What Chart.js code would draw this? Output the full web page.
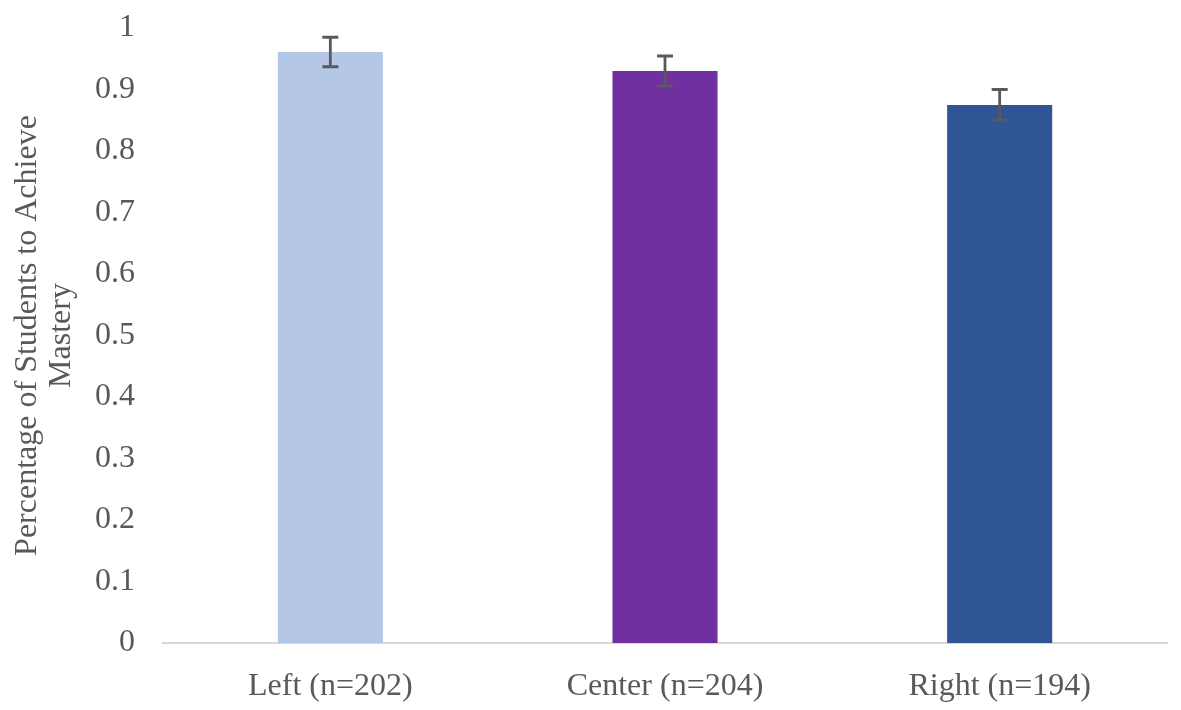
<!DOCTYPE html>
<html>
<head>
<meta charset="utf-8">
<script src="https://cdn.jsdelivr.net/npm/chart.js@4"></script>
<style>
  html, body { margin: 0; padding: 0; background: #ffffff; }
  #wrap { width: 1181px; height: 710px; position: relative; }
</style>
</head>
<body>
<div id="wrap"><canvas id="c"></canvas></div>
<script>
const categories = ['Left (n=202)', 'Center (n=204)', 'Right (n=194)'];
const masteryValues = [0.961, 0.930, 0.875];
const errorValues = [0.024, 0.0245, 0.025];
const barColors = ['#B4C7E7', '#7030A0', '#2F5597'];
const yTickLabels = ['0', '0.1', '0.2', '0.3', '0.4', '0.5', '0.6', '0.7', '0.8', '0.9', '1'];
const yTitleLines = ['Percentage of Students to Achieve', 'Mastery'];

const textColor = '#595959';
const fontFamily = '"Liberation Serif", "Times New Roman", serif';

const errorBarPlugin = {
  id: 'errorBars',
  afterDatasetsDraw(chart) {
    const ctx = chart.ctx;
    const meta = chart.getDatasetMeta(0);
    const yScale = chart.scales.y;
    ctx.save();
    ctx.strokeStyle = '#595959';
    ctx.lineWidth = 2.8;
    ctx.lineCap = 'butt';
    meta.data.forEach((bar, i) => {
      const v = masteryValues[i];
      const e = errorValues[i];
      const x = bar.x;
      const yTop = yScale.getPixelForValue(v + e);
      const yBot = yScale.getPixelForValue(v - e);
      const half = 8;
      ctx.beginPath();
      ctx.moveTo(x, yTop); ctx.lineTo(x, yBot);
      ctx.moveTo(x - half, yTop); ctx.lineTo(x + half, yTop);
      ctx.moveTo(x - half, yBot); ctx.lineTo(x + half, yBot);
      ctx.stroke();
    });
    ctx.restore();
  }
};

new Chart(document.getElementById('c'), {
  type: 'bar',
  data: {
    labels: categories,
    datasets: [{
      data: masteryValues,
      backgroundColor: barColors,
      borderWidth: 0,
      barPercentage: 0.314,
      categoryPercentage: 1.0
    }]
  },
  options: {
    responsive: true,
    maintainAspectRatio: false,
    animation: false,
    devicePixelRatio: 1,
    layout: { padding: { top: 28, right: 14, bottom: 0, left: 0 } },
    plugins: {
      legend: { display: false },
      tooltip: { enabled: false }
    },
    scales: {
      x: {
        grid: { display: false, drawTicks: false },
        border: { display: true, color: '#D9D9D9', width: 2 },
        ticks: {
          color: textColor,
          font: { family: fontFamily, size: 32 },
          padding: 24,
          maxRotation: 0,
          autoSkip: false
        },
        afterFit(scale) { scale.height = 67; scale.paddingLeft = 0; scale.paddingRight = 0; }
      },
      y: {
        min: 0,
        max: 1,
        grid: { display: false, drawTicks: false },
        border: { display: false },
        ticks: {
          stepSize: 0.1,
          color: textColor,
          font: { family: fontFamily, size: 32 },
          padding: 28,
          callback: (val, idx) => yTickLabels[idx]
        },
        title: {
          display: true,
          text: yTitleLines,
          color: textColor,
          font: { family: fontFamily, size: 32, lineHeight: 1.06 },
          padding: { top: 11, bottom: 0 }
        },
        afterFit(scale) { scale.width = 163; scale.paddingTop = 0; scale.paddingBottom = 0; }
      }
    }
  },
  plugins: [errorBarPlugin]
});
</script>
</body>
</html>
